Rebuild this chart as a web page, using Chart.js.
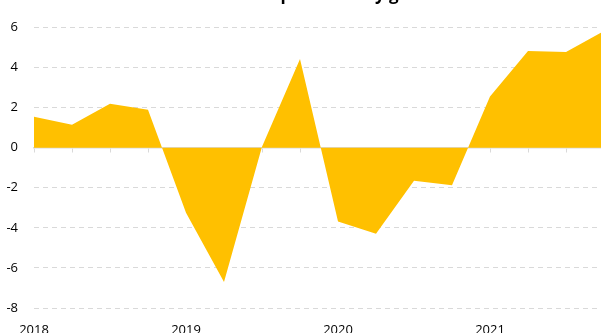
<!DOCTYPE html>
<html>
<head>
<meta charset="utf-8">
<script src="https://cdn.jsdelivr.net/npm/chart.js@4.4.1/dist/chart.umd.min.js"></script>
<style>
    html, body { margin: 0; padding: 0; background: #fff; }
    #wrap { position: relative; width: 601px; height: 333px; overflow: hidden; }
    #growth-chart { position: absolute; left: 0; top: -15px; }
</style>
</head>
<body>
<div id="wrap">
    <canvas id="growth-chart" width="620" height="375"></canvas>
</div>
<script>
var quarter_labels = [
    'Q1 2018', 'Q2 2018', 'Q3 2018', 'Q4 2018',
    'Q1 2019', 'Q2 2019', 'Q3 2019', 'Q4 2019',
    'Q1 2020', 'Q2 2020', 'Q3 2020', 'Q4 2020',
    'Q1 2021', 'Q2 2021', 'Q3 2021', 'Q4 2021'
];
var year_labels = ['2018', '2019', '2020', '2021'];
var growth_values = [1.55, 1.15, 2.2, 1.9, -3.25, -6.7, 0.05, 4.43, -3.68, -4.3, -1.65, -1.87, 2.55, 4.83, 4.78, 5.82];
var y_min = -8;
var y_max = 6;
var y_step = 2;

var font_family = "'Open Sans', sans-serif";
var grid_colour = '#d9d9d9';

var GrowthChart;

function LoadGrowthChart() {
    var ctx = document.getElementById('growth-chart');
    if (GrowthChart) {
        GrowthChart.destroy();
    }
    GrowthChart = new Chart(ctx, {
        type: 'line',
        data: {
            labels: quarter_labels,
            datasets: [{
                label: 'Growth',
                data: growth_values,
                fill: 'origin',
                backgroundColor: '#ffc000',
                borderColor: 'rgba(0, 0, 0, 0)',
                borderWidth: 0,
                pointRadius: 0,
                tension: 0
            }]
        },
        options: {
            responsive: false,
            animation: false,
            devicePixelRatio: 1,
            layout: {
                padding: { left: 0, right: 16, top: 0, bottom: 8.4 }
            },
            plugins: {
                legend: { display: false },
                tooltip: { enabled: false },
                title: {
                    display: true,
                    text: 'Annual rate of productivity growth',
                    color: '#000',
                    font: { family: font_family, size: 17, weight: 'bold' },
                    padding: { top: 0, bottom: 22.1 }
                }
            },
            scales: {
                x: {
                    type: 'category',
                    position: 'bottom',
                    offset: false,
                    grid: { display: false, drawTicks: false },
                    border: { display: false },
                    ticks: {
                        autoSkip: false,
                        maxRotation: 0,
                        padding: 14,
                        color: '#000',
                        font: { family: font_family, size: 13 },
                        callback: function (value, index) {
                            return index % 4 === 0 ? year_labels[index / 4] : '';
                        }
                    }
                },
                zero: {
                    type: 'category',
                    axis: 'x',
                    position: { y: 0 },
                    offset: false,
                    z: 1,
                    grid: {
                        drawOnChartArea: false,
                        drawTicks: true,
                        tickLength: 4,
                        color: grid_colour,
                        lineWidth: 1
                    },
                    border: { display: true, color: grid_colour, width: 1.5 },
                    ticks: { display: false }
                },
                y: {
                    min: y_min,
                    max: y_max,
                    afterFit: function (scale) {
                        scale.width = 34;
                    },
                    grid: {
                        drawTicks: false,
                        color: function (c) {
                            return c.tick && c.tick.value === 0 ? 'rgba(0, 0, 0, 0)' : grid_colour;
                        },
                        lineWidth: 1
                    },
                    border: { display: false, dash: [5, 4] },
                    ticks: {
                        stepSize: y_step,
                        padding: 16,
                        color: '#000',
                        font: { family: font_family, size: 13 }
                    }
                }
            }
        }
    });
}

LoadGrowthChart();
</script>
</body>
</html>
